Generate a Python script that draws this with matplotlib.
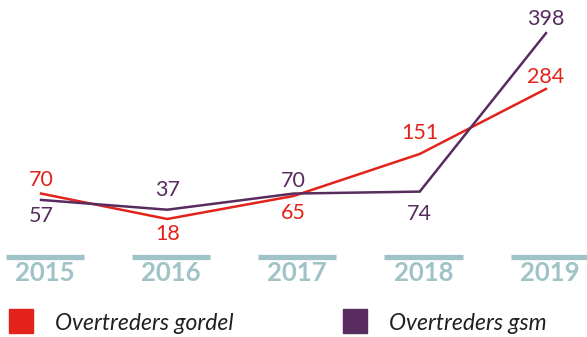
import matplotlib.pyplot as plt
from matplotlib.lines import Line2D
from matplotlib.transforms import blended_transform_factory

years = ['2015', '2016', '2017', '2018', '2019']
gordel = [70, 18, 65, 151, 284]
gsm = [57, 37, 70, 74, 398]

# label offsets (pixels) for each point
gordel_dy = [14, -15, -17, 21, 12]
gsm_dy = [-16, 20, 13, -22, 14]

red = '#E3231B'
purple = '#582C5E'
teal = '#A0C3C7'

plt.rcParams['font.family'] = ['Lato', 'DejaVu Sans']

fig = plt.figure(figsize=(5.87, 3.37), dpi=100)
ax = fig.add_axes([0, 0, 1, 1])
ax.set_xlim(-0.325, 4.325)
ax.set_ylim(-223.3, 465.8)
ax.axis('off')

x = list(range(len(years)))
ax.plot(x, gordel, color=red, lw=1.8, solid_joinstyle='miter')
ax.plot(x, gsm, color=purple, lw=1.8, solid_joinstyle='miter')

for i in x:
    ax.annotate(str(gordel[i]), (i, gordel[i]), xytext=(0, gordel_dy[i]),
                textcoords='offset pixels', ha='center', va='center',
                fontsize=15.5, color=red)
    ax.annotate(str(gsm[i]), (i, gsm[i]), xytext=(0, gsm_dy[i]),
                textcoords='offset pixels', ha='center', va='center',
                fontsize=15.5, color=purple)

# year bars and labels underneath
trans = blended_transform_factory(ax.transData, ax.transAxes)
for i, yr in enumerate(years):
    c = i + 0.03
    ax.plot([c - 0.31, c + 0.31], [1 - 256.5 / 337] * 2, color=teal, lw=3.8,
            transform=trans, solid_capstyle='butt')
    ax.text(c, 1 - 273 / 337, yr, transform=trans, ha='center', va='center',
            fontsize=18.5, fontweight='bold', color=teal)

handles = [
    Line2D([], [], ls='none', marker='s', ms=17, color=red),
    Line2D([], [], ls='none', marker='s', ms=17, color=purple),
]
fig.legend(handles, ['Overtreders gordel', 'Overtreders gsm'], ncol=2,
           loc='center left', bbox_to_anchor=(7 / 587, 1 - 323 / 337),
           frameon=False, borderaxespad=0, borderpad=0,
           prop={'style': 'italic', 'size': 16.5}, labelcolor='#231F20',
           handlelength=1.2, handletextpad=0.9, columnspacing=4.7)

fig.savefig('out.png', dpi=100)
